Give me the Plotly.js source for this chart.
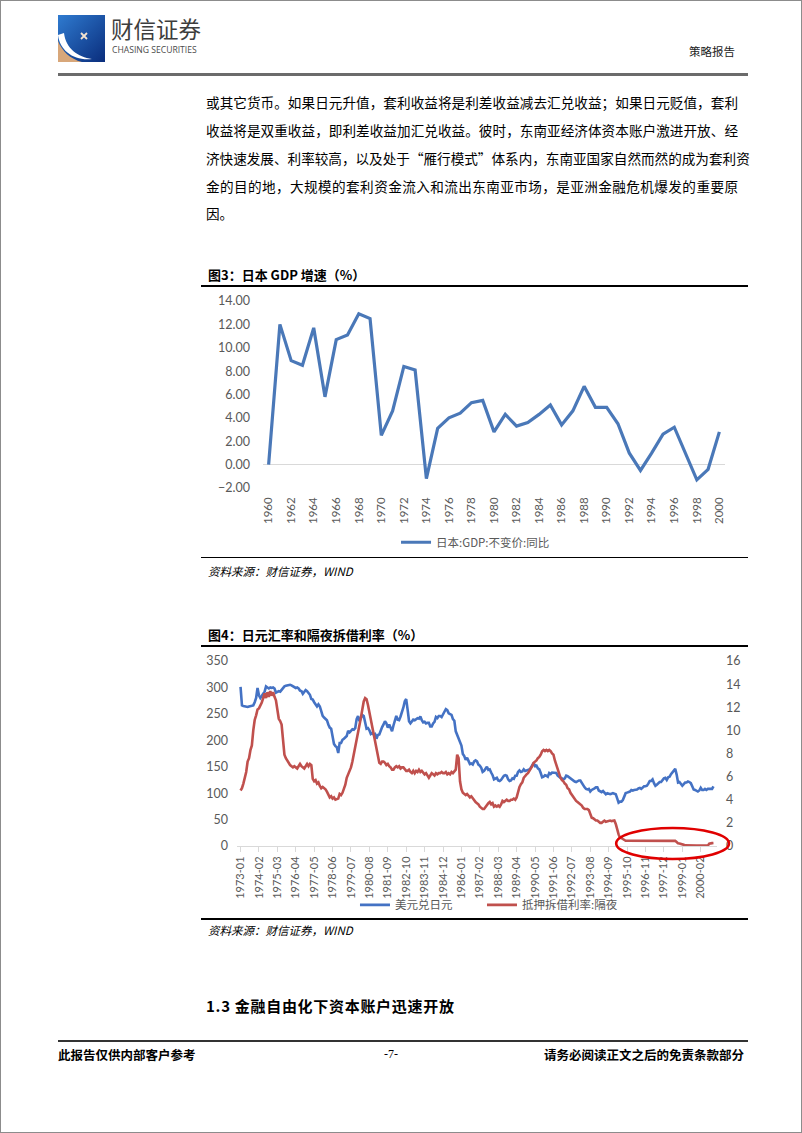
<!DOCTYPE html>
<html><head><meta charset="utf-8">
<script src="https://cdn.plot.ly/plotly-3.0.1.min.js"></script>
<style>
body{margin:0;background:#fff;}
#page{position:relative;width:802px;height:1133px;border:1px solid #8c8c8c;box-sizing:border-box;overflow:hidden;font-family:"Noto Sans CJK SC",sans-serif;color:#000;background:#fff;}
.abs{position:absolute;white-space:nowrap;}
.pline{position:absolute;left:205px;width:532px;font-size:13.6px;line-height:20px;height:20px;text-align:justify;text-align-last:justify;white-space:nowrap;}
.rule{position:absolute;background:#000;}
.ctitle{position:absolute;left:207px;font-size:13px;font-weight:700;line-height:18px;}
.src{position:absolute;left:207px;font-size:11.5px;font-style:italic;line-height:16px;}
</style></head>
<body><div id="page">
<svg class="abs" style="left:57px;top:14px" width="47" height="47" viewBox="0 0 47 47">
<defs><linearGradient id="lg" x1="0" y1="0" x2="1" y2="1"><stop offset="0" stop-color="#2f7bd0"/><stop offset="1" stop-color="#0a2d7c"/></linearGradient></defs>
<rect width="47" height="47" fill="url(#lg)"/>
<path d="M0 47 L0 26 C4 36 12 44 24 47 Z" fill="#d8a77a"/>
<path d="M0 20 C2 36 16 46 34 44 C20 42 8 34 6 18 Z" fill="#fff"/>
<path d="M23 18 L29 24 M29 18 L23 24" stroke="#f3e3cf" stroke-width="1.8"/>
</svg>
<div class="abs" style="left:110px;top:13px;font-size:22.5px;line-height:28px;color:#3d3d3d;">财信证券</div>
<div class="abs" style="left:111px;top:44px;font-size:8.6px;line-height:10px;color:#4a4a4a;font-family:'Open Sans',sans-serif;">CHASING SECURITIES</div>
<div class="abs" style="left:688px;top:42px;font-size:11.5px;line-height:16px;color:#222;">策略报告</div>
<div class="rule" style="left:57px;top:72px;width:690px;height:2.5px;background:#6b6b6b;"></div>

<div class="pline" style="top:91px;">或其它货币。如果日元升值，套利收益将是利差收益减去汇兑收益；如果日元贬值，套利</div>
<div class="pline" style="top:119px;">收益将是双重收益，即利差收益加汇兑收益。彼时，东南亚经济体资本账户激进开放、经</div>
<div class="pline" style="top:147px;">济快速发展、利率较高，以及处于“雁行模式”体系内，东南亚国家自然而然的成为套利资</div>
<div class="pline" style="top:175px;">金的目的地，大规模的套利资金流入和流出东南亚市场，是亚洲金融危机爆发的重要原</div>
<div class="pline" style="top:202px;text-align-last:left;">因。</div>

<div class="ctitle" style="top:265px;">图3：日本 GDP 增速（%）</div>
<div class="rule" style="left:200px;top:284px;width:547px;height:1.5px;"></div>
<div id="c1" class="abs" style="left:190px;top:288px;width:560px;height:265px;"></div>
<div class="rule" style="left:200px;top:555.5px;width:547px;height:1.5px;"></div>
<div class="src" style="top:562px;">资料来源：财信证券，WIND</div>

<div class="ctitle" style="top:625px;">图4：日元汇率和隔夜拆借利率（%）</div>
<div class="rule" style="left:200px;top:644px;width:547px;height:1.5px;"></div>
<div id="c2" class="abs" style="left:190px;top:648px;width:560px;height:265px;"></div>
<div class="rule" style="left:200px;top:917px;width:547px;height:1.5px;"></div>
<div class="src" style="top:921px;">资料来源：财信证券，WIND</div>

<div class="abs" style="left:205px;top:995px;font-size:15px;font-weight:700;line-height:20px;letter-spacing:0.7px;">1.3 金融自由化下资本账户迅速开放</div>
<div class="rule" style="left:57px;top:1039px;width:690px;height:2px;background:#333;"></div>
<div class="abs" style="left:57px;top:1045px;font-size:12.5px;font-weight:700;line-height:17px;">此报告仅供内部客户参考</div>
<div class="abs" style="left:383px;top:1045px;font-size:12px;line-height:17px;font-family:'Liberation Serif',serif;">-7-</div>
<div class="abs" style="left:543px;top:1045px;font-size:12.5px;font-weight:700;line-height:17px;">请务必阅读正文之后的免责条款部分</div>
</div>
<script>
// ---- Chart 1: Japan GDP growth ----
const gdpYears = ["1960","1961","1962","1963","1964","1965","1966","1967","1968","1969","1970","1971","1972","1973","1974","1975","1976","1977","1978","1979","1980","1981","1982","1983","1984","1985","1986","1987","1988","1989","1990","1991","1992","1993","1994","1995","1996","1997","1998","1999","2000"];
const gdpGrowth = [0.0,12.0,8.9,8.5,11.7,5.8,10.7,11.1,12.9,12.5,2.5,4.6,8.4,8.1,-1.2,3.1,4.0,4.4,5.3,5.5,2.8,4.3,3.3,3.6,4.3,5.1,3.4,4.6,6.7,4.9,4.9,3.5,1.0,-0.5,1.0,2.6,3.2,0.9,-1.3,-0.4,2.8];
const gdpTickYears = ["1960","1962","1964","1966","1968","1970","1972","1974","1976","1978","1980","1982","1984","1986","1988","1990","1992","1994","1996","1998","2000"];
const gdpName = "日本:GDP:不变价:同比";

// ---- Chart 2: USD/JPY and overnight call rate, monthly from 1973-01 to 2000-11 ----
const startYear = 1973;
const usdJpy = [
301,266,265,264,264,263,264,265,265,266,272,280,
299,285,280,283,288,292,302,300,298,300,299,300,
298,290,292,293,292,296,298,302,303,304,305,305,
304,302,300,299,300,298,294,293,288,292,295,293,
290,286,278,277,272,268,264,268,264,255,246,243,
241,238,230,224,222,209,193,189,187,176,195,195,
201,203,205,208,218,215,218,221,220,223,240,246,
236,242,248,246,232,222,223,219,212,214,211,212,
203,210,211,219,225,230,236,232,224,230,224,217,
228,236,246,239,238,245,252,262,274,278,258,236,
232,236,239,238,240,242,241,245,238,234,235,232,
233,233,226,226,232,235,244,242,246,246,244,251,
254,259,257,251,250,248,240,237,217,210,201,195,
190,174,170,163,167,161,155,156,154,160,162,160,
154,152,148,140,142,146,150,144,145,139,134,126,
127,129,124,123,125,130,133,134,133,126,123,124,
128,127,133,133,140,143,140,141,145,142,143,145,
145,148,153,157,151,152,147,145,138,130,131,134,
133,131,138,136,139,139,138,138,133,130,129,128,
126,128,133,132,130,127,126,124,122,121,123,124,
124,119,116,111,108,107,108,103,106,107,109,111,
111,105,103,102,104,101,98,100,99,98,99,100,
99,98,90,82,84,84,87,95,100,101,102,103,
106,105,106,106,107,109,110,108,110,113,113,114,
118,123,123,126,119,114,116,118,121,121,126,128,
129,125,130,131,136,140,142,146,135,120,121,117,
114,117,120,120,122,121,119,113,107,106,105,103,
105,110,106,106,108,106,108,108,107,108,113];
const callRate = [
4.8,5.0,5.4,5.9,6.4,7.3,7.6,8.3,8.7,10.0,10.9,11.3,
11.8,11.9,12.1,12.4,12.8,13.2,12.8,13.3,12.9,13.4,13.0,13.3,
12.9,12.6,11.8,11.0,10.8,10.5,9.2,7.9,7.6,7.4,7.1,7.0,
6.9,6.8,6.9,6.8,6.7,6.9,7.1,6.9,6.8,6.7,6.9,7.1,
6.9,7.1,7.0,5.8,5.6,5.7,5.4,5.5,5.2,5.0,5.1,5.0,
4.9,4.7,4.5,4.2,4.3,4.1,4.2,4.0,4.05,4.1,4.5,4.4,
4.6,4.9,5.3,5.9,6.2,6.5,6.8,7.3,7.9,8.4,9.1,9.6,
10.5,11.1,11.8,12.5,12.8,12.7,12.2,11.6,10.8,10.1,9.7,9.1,
8.5,7.9,7.2,7.1,7.3,7.3,7.2,7.0,7.1,6.9,6.8,6.6,
6.6,6.8,6.9,6.8,6.9,6.7,6.8,6.8,6.6,6.5,6.5,6.6,
6.4,6.3,6.5,6.3,6.5,6.4,6.6,6.4,6.5,6.3,6.2,6.3,
6.1,5.9,6.1,6.3,6.2,6.1,6.3,6.2,6.3,6.3,6.4,6.3,
6.3,6.4,6.2,6.3,6.2,6.4,6.3,6.5,6.6,7.9,7.6,5.6,
4.9,4.6,4.5,4.4,4.5,4.3,4.2,4.3,4.1,3.9,3.8,3.7,
3.6,3.4,3.3,3.2,3.2,3.4,3.5,3.7,3.8,3.6,3.7,3.4,
3.5,3.4,3.5,3.4,3.6,3.9,3.8,3.9,4.0,3.9,3.9,4.0,
4.0,4.1,4.0,4.2,4.7,5.1,5.35,5.5,5.9,6.1,6.2,6.3,
6.5,6.6,6.9,7.2,7.3,7.4,7.6,7.7,7.9,8.2,8.3,8.2,
8.3,8.2,8.3,8.2,8.0,7.9,7.4,7.0,6.6,6.2,5.9,5.7,
5.6,5.4,5.3,5.0,4.9,4.6,4.4,4.3,4.0,3.9,3.8,3.7,
3.6,3.5,3.3,3.2,3.2,3.2,3.1,2.8,2.45,2.4,2.3,2.2,
2.2,2.1,2.0,2.0,2.1,2.2,2.1,2.15,2.2,2.2,2.15,2.2,
2.2,1.9,1.3,1.0,0.7,0.7,0.6,0.5,0.45,0.45,0.45,0.46,
0.46,0.47,0.48,0.47,0.47,0.48,0.48,0.47,0.47,0.47,0.47,0.48,
0.48,0.49,0.50,0.49,0.49,0.50,0.49,0.49,0.48,0.48,0.48,0.47,
0.46,0.47,0.46,0.46,0.45,0.45,0.44,0.44,0.35,0.23,0.22,0.20,
0.18,0.10,0.05,0.04,0.03,0.03,0.03,0.03,0.03,0.03,0.03,0.03,
0.03,0.03,0.03,0.03,0.03,0.03,0.03,0.20,0.25,0.25,0.26];
const fxName = "美元兑日元";
const rateName = "抵押拆借利率:隔夜";
const monthTickStep = 13;

function monthLabel(i){const y=startYear+Math.floor(i/12);const m=(i%12)+1;return y+"-"+(m<10?"0":"")+m;}
const monthIdx = usdJpy.map((_,i)=>i);
const monthLabels = monthIdx.map(monthLabel);
const tickIdx = monthIdx.filter(i=>i%monthTickStep===0 && i<=325);

const axisFont = {family:"Lato, 'Noto Sans CJK SC', sans-serif", size:12, color:"#595959"};
const legFont = {size:11.5, color:"#595959", family:"'Noto Sans CJK SC', Lato, sans-serif"};
const cfg = {staticPlot:true, displayModeBar:false};

Plotly.newPlot("c1", [{
  x: gdpYears, y: gdpGrowth, type:"scatter", mode:"lines", name: gdpName,
  line:{color:"#4a78b8", width:3.2}
}], {
  width:560, height:265, margin:{l:72.4, r:26.4, t:12, b:66, autoexpand:false},
  paper_bgcolor:"#fff", plot_bgcolor:"#fff", font:axisFont, showlegend:true,
  xaxis:{type:"category", tickmode:"array", tickvals:gdpTickYears, ticktext:gdpTickYears, tickangle:-90, automargin:false,
         showgrid:false, zeroline:false, showline:false, ticks:"", tickfont:{size:11.5, color:"#595959", family:"Lato, sans-serif"},
         range:[-0.5,40.5], ticklabelstandoff:6},
  yaxis:{range:[-2,14], dtick:2, tickformat:".2f", showgrid:false, zeroline:true, zerolinecolor:"#d9d9d9", zerolinewidth:1, automargin:false,
         showline:false, ticks:"", ticklabelstandoff:12, tickfont:{size:12.5, color:"#595959", family:"Lato, sans-serif"}},
  legend:{orientation:"h", x:0.46, xanchor:"center", y:-0.29, yanchor:"middle", bgcolor:"rgba(0,0,0,0)", font:legFont, itemwidth:30}
}, cfg);

Plotly.newPlot("c2", [
  {x: monthIdx, y: usdJpy, type:"scatter", mode:"lines", name: fxName, line:{color:"#4472c4", width:2.6}, yaxis:"y", legend:"legend"},
  {x: monthIdx, y: callRate, type:"scatter", mode:"lines", name: rateName, line:{color:"#c0504d", width:2.6}, yaxis:"y2", legend:"legend2"}
], {
  width:560, height:265, margin:{l:46, r:34, t:12, b:68, autoexpand:false},
  paper_bgcolor:"#fff", plot_bgcolor:"rgba(0,0,0,0)", font:axisFont, showlegend:true,
  xaxis:{range:[-2.5,336.5], tickmode:"array", tickvals:tickIdx, ticktext:tickIdx.map(i=>monthLabels[i]), tickangle:-90, automargin:false,
         showgrid:false, zeroline:false, showline:true, linecolor:"#d9d9d9", linewidth:1, ticks:"outside", ticklen:5, tickcolor:"#d9d9d9",
         tickfont:{size:11, color:"#595959", family:"Lato, sans-serif"}},
  yaxis:{range:[0,350], dtick:50, showgrid:false, zeroline:false, showline:false, ticks:"", ticklabelstandoff:8, automargin:false,
         tickfont:{size:12.5, color:"#595959", family:"Lato, sans-serif"}},
  yaxis2:{range:[0,16], dtick:2, overlaying:"y", side:"right", showgrid:false, zeroline:false, showline:false, ticks:"", ticklabelstandoff:8, automargin:false,
         tickfont:{size:12.5, color:"#595959", family:"Lato, sans-serif"}},
  legend:{orientation:"h", x:0.2458, xanchor:"left", y:-0.318, yanchor:"middle", bgcolor:"rgba(0,0,0,0)", font:legFont, itemwidth:30},
  legend2:{orientation:"h", x:0.5104, xanchor:"left", y:-0.318, yanchor:"middle", bgcolor:"rgba(0,0,0,0)", font:legFont, itemwidth:30},
  shapes:[{type:"circle", xref:"paper", yref:"paper", x0:0.79, x1:1.025, y0:-0.07, y1:0.097, line:{color:"#e00000", width:2.6}}]
}, cfg);
</script>
</body></html>
